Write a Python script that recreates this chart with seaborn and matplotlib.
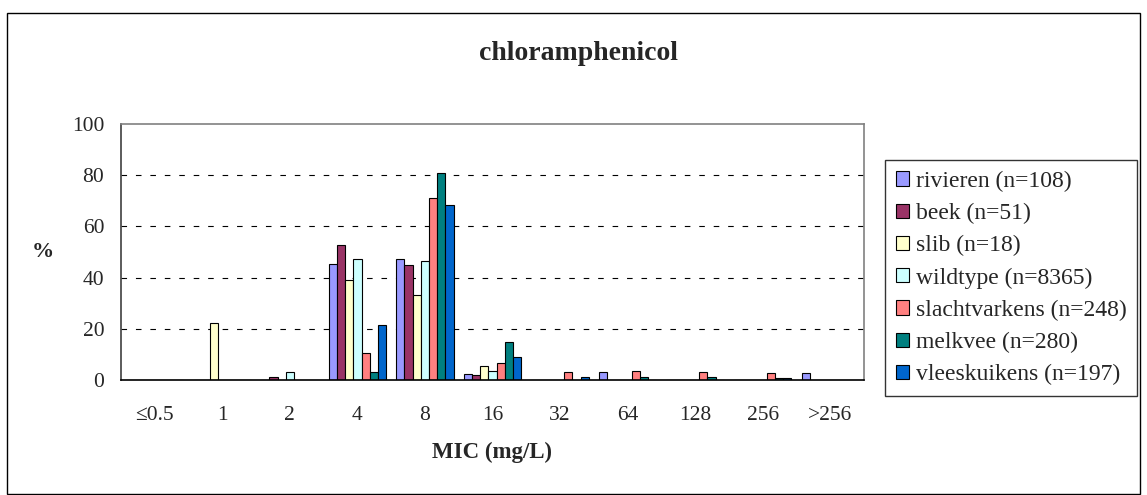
import matplotlib
matplotlib.use("Agg")
import matplotlib.pyplot as plt
import matplotlib.patches as mpatches
from matplotlib.ticker import FixedLocator, NullFormatter
import seaborn as sns
import pandas as pd

# MIC classes (mg/L)
mic = ["≤0.5", "1", "2", "4", "8", "16", "32", "64", "128", "256", ">256"]

# percentage of isolates per MIC class
rivieren = [0, 0, 0, 45.4, 47.2, 2.5, 0, 3.0, 0, 0, 2.6]
beek = [0, 0, 1.0, 52.9, 45.1, 2.0, 0, 0, 0, 0, 0]
slib = [0, 22.2, 0, 38.9, 33.3, 5.6, 0, 0, 0, 0, 0]
wildtype = [0, 0, 3.0, 47.1, 46.4, 3.6, 0, 0, 0, 0, 0]
slachtvarkens = [0, 0, 0, 10.4, 71.2, 6.8, 3.2, 3.6, 3.2, 2.6, 0]
melkvee = [0, 0, 0, 3.1, 80.7, 14.7, 0, 1.1, 1.1, 0.7, 0]
vleeskuikens = [0, 0, 0, 21.4, 68.2, 8.9, 1.0, 0, 0, 0.7, 0]

series_names = ["rivieren (n=108)", "beek (n=51)", "slib (n=18)", "wildtype (n=8365)",
                "slachtvarkens (n=248)", "melkvee (n=280)", "vleeskuikens (n=197)"]
series_values = [rivieren, beek, slib, wildtype, slachtvarkens, melkvee, vleeskuikens]
colors = ["#9999FF", "#993366", "#FFFFCC", "#CCFFFF", "#FF8080", "#008080", "#0066CC"]

rows = []
for name, vals in zip(series_names, series_values):
    for m, v in zip(mic, vals):
        rows.append({"MIC": m, "pct": v, "groep": name})
df = pd.DataFrame(rows)

sns.set_style("white")
plt.rcParams["font.family"] = ["Liberation Serif", "DejaVu Serif"]

W, H = 1147, 495
fig = plt.figure(figsize=(W / 100, H / 100), dpi=100)
ax = fig.add_axes([121 / W, 1 - 380 / H, (864 - 121) / W, (380 - 124) / H])

sns.barplot(data=df, x="MIC", y="pct", hue="groep", order=mic, hue_order=series_names,
            palette=colors, width=0.85, edgecolor="black", linewidth=0.8,
            saturation=1, errorbar=None, legend=False, ax=ax)

ax.set_xlim(-0.5, len(mic) - 0.5)
ax.set_ylim(0, 100)
ax.set_yticks([0, 20, 40, 60, 80, 100])
ax.set_yticklabels(["0", "20", "40", "60", "80", "100"], fontsize=15.5)

# category labels at centres, tick marks on the category boundaries
ax.set_xticks(range(len(mic)))
ax.set_xticklabels(mic, fontsize=15.5)
ax.tick_params(axis="x", which="major", length=0, pad=19)
ax.xaxis.set_minor_locator(FixedLocator([i - 0.5 for i in range(len(mic) + 1)]))
ax.xaxis.set_minor_formatter(NullFormatter())
ax.tick_params(axis="x", which="minor", length=6, width=1, color="black", direction="out")
ax.tick_params(axis="y", length=6, width=1, color="black", direction="out", pad=6)

for yv in [20, 40, 60, 80]:
    ax.axhline(yv, color="black", lw=0.8, dashes=(5, 8), zorder=0)

for side in ["top", "right"]:
    ax.spines[side].set_color("#808080")
    ax.spines[side].set_linewidth(1.2)
ax.spines["left"].set_color("#404040")
ax.spines["left"].set_linewidth(1.2)
ax.spines["bottom"].set_color("black")
ax.spines["bottom"].set_linewidth(1.2)

ax.set_xlabel("MIC (mg/L)", fontsize=16.5, fontweight="bold", labelpad=12)
ax.set_ylabel("%", fontsize=16, fontweight="bold", rotation=0, va="center")
ax.yaxis.set_label_coords(-0.105, 0.5)

fig.text(579 / W, 1 - 53 / H, "chloramphenicol", ha="center", va="center",
         fontsize=20, fontweight="bold")

handles = [mpatches.Patch(facecolor=c, edgecolor="black", linewidth=0.8, label=n)
           for c, n in zip(colors, series_names)]
leg = fig.legend(handles=handles, loc="upper left", bbox_to_anchor=(885 / W, 1 - 160 / H),
                 fontsize=17, frameon=True, fancybox=False, shadow=False,
                 handlelength=0.55, handleheight=0.55, handletextpad=0.3,
                 labelspacing=0.47, borderpad=0.45, borderaxespad=0)
leg.get_frame().set_edgecolor("black")
leg.get_frame().set_linewidth(1.0)

# outer chart frame
fig.patches.append(mpatches.Rectangle((7 / W, 1 / H), (1140 - 7) / W, (494 - 13) / H,
                                      transform=fig.transFigure, fill=False,
                                      edgecolor="black", linewidth=1.0))

fig.savefig("out.png", dpi=100)
